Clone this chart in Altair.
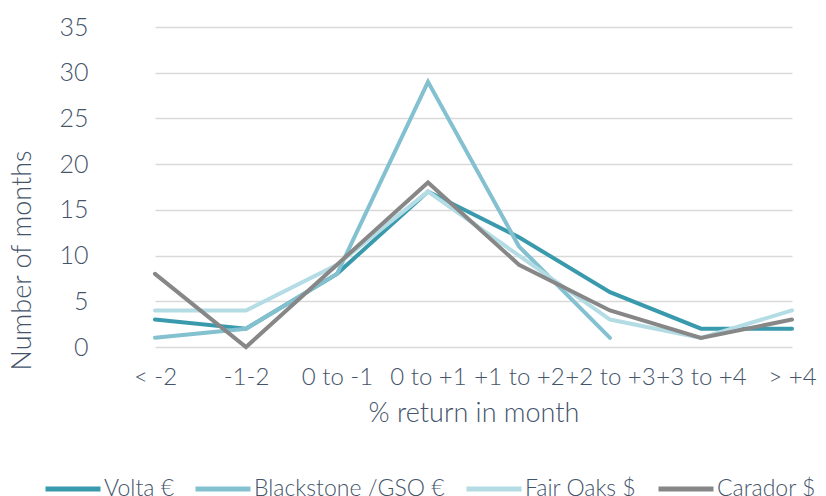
import altair as alt
import pandas as pd

categories = ["< -2", "-1-2", "0 to -1", "0 to +1", "+1 to +2", "+2 to +3", "+3 to +4", "> +4"]
series_names = ["Volta €", "Blackstone /GSO €", "Fair Oaks $", "Carador $"]
volta = [3, 2, 8, 17, 12, 6, 2, 2]
blackstone = [1, 2, 8, 29, 11, 1, None, None]
fair_oaks = [4, 4, 9, 17, 10, 3, 1, 4]
carador = [8, 0, 9, 18, 9, 4, 1, 3]
colors = ["#3a9aad", "#83c1d0", "#b4dce4", "#878787"]

rows = []
for name, vals in zip(series_names, [volta, blackstone, fair_oaks, carador]):
    for c, v in zip(categories, vals):
        if v is not None:
            rows.append({"cat": c, "months": v, "series": name})
df = pd.DataFrame(rows)

font = "Lato"
txt = "#44546a"

chart = alt.Chart(df).mark_line(strokeWidth=4, strokeCap="round", strokeJoin="miter").encode(
    x=alt.X("cat:N", sort=categories, title="% return in month",
            scale=alt.Scale(type="point", range=[45, 682], padding=0),
            axis=alt.Axis(labelAngle=0, domain=False, ticks=False, labelFontSize=24,
                          titleFontSize=27, labelPadding=18, titlePadding=11,
                          labelColor=txt, titleColor=txt, labelFont=font, titleFont=font,
                          labelFontWeight=300, titleFontWeight=300, grid=False)),
    y=alt.Y("months:Q", scale=alt.Scale(domain=[0, 35]), title="Number of months",
            axis=alt.Axis(values=[0, 5, 10, 15, 20, 25, 30, 35], domain=False, ticks=False,
                          labelFontSize=25, titleFontSize=27, labelPadding=22,
                          titleX=-88, titleY=233, titleAngle=270, titleBaseline="middle",
                          titleAlign="center",
                          labelColor=txt, titleColor=txt, labelFont=font, titleFont=font,
                          labelFontWeight=300, titleFontWeight=300,
                          gridColor="#d9d9d9", gridWidth=1.5)),
    color=alt.Color("series:N", sort=series_names,
                    scale=alt.Scale(domain=series_names, range=colors),
                    legend=alt.Legend(title=None, orient="none", direction="horizontal",
                                      legendX=-67, legendY=432,
                                      symbolType="stroke", symbolSize=3025, symbolStrokeWidth=5,
                                      labelFontSize=23, labelFont=font, labelFontWeight=300,
                                      labelColor=txt, columnPadding=11, labelOffset=1,
                                      labelLimit=300)),
    order=alt.Order("series:N"),
).properties(
    width=708, height=320,
    background="white",
    autosize=alt.AutoSizeParams(type="none"),
    padding={"left": 102, "top": 19, "right": 0, "bottom": 149},
).configure_view(stroke="transparent", strokeWidth=0)

chart.save("out.html", embed_options={"renderer": "svg", "actions": False})
